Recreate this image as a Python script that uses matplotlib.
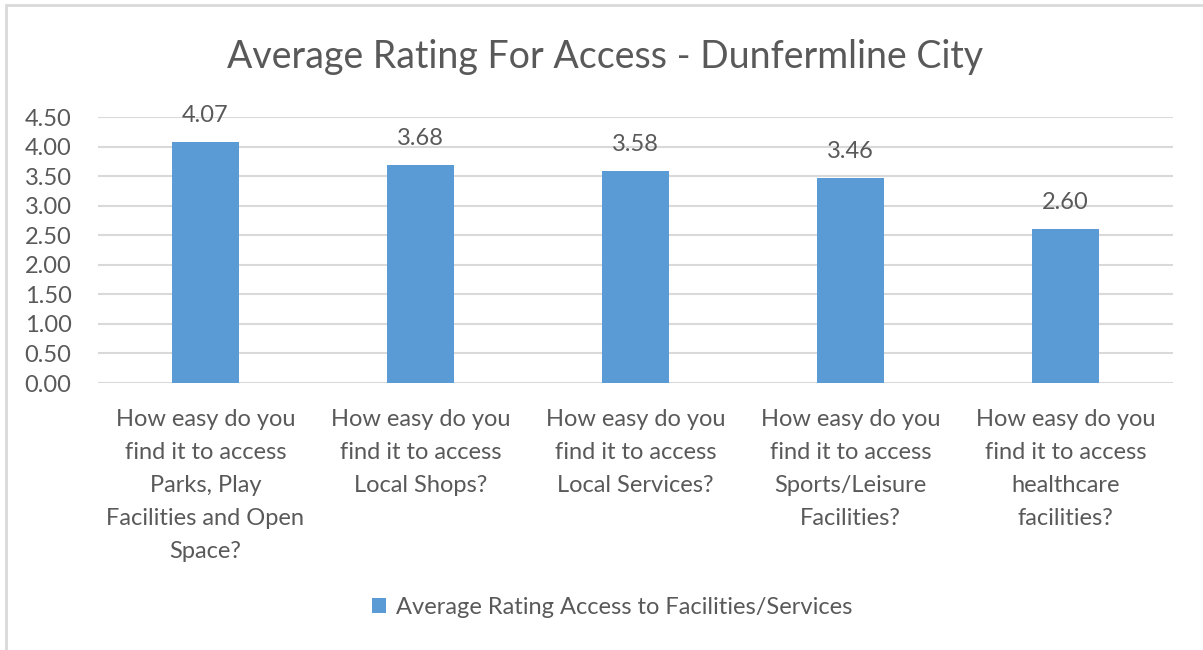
import numpy as np
import matplotlib.pyplot as plt
from matplotlib.patches import Rectangle

# data
categories = [
    "How easy do you\nfind it to access\nParks, Play\nFacilities and Open\nSpace?",
    "How easy do you\nfind it to access\nLocal Shops?",
    "How easy do you\nfind it to access\nLocal Services?",
    "How easy do you\nfind it to access\nSports/Leisure\nFacilities?",
    "How easy do you\nfind it to access\nhealthcare\nfacilities?",
]
ratings = [4.07, 3.68, 3.58, 3.46, 2.60]
y_ticks = [0.0, 0.5, 1.0, 1.5, 2.0, 2.5, 3.0, 3.5, 4.0, 4.5]
series_name = "Average Rating Access to Facilities/Services"
title = "Average Rating For Access - Dunfermline City"

bar_color = "#5B9BD5"
text_color = "#595959"
grid_color = "#D9D9D9"

plt.rcParams["font.family"] = ["Lato", "DejaVu Sans"]

fig = plt.figure(figsize=(12.03, 6.5), dpi=100)
# chart area border (light grey, Excel-like)
fig.patches.append(Rectangle((6 / 1203, -0.01), 1.01, 1 - 5 / 650 + 0.01,
                             transform=fig.transFigure, fill=False,
                             edgecolor="#D9D9D9", linewidth=2))

ax = fig.add_axes([98 / 1203, 267 / 650, 1075 / 1203, 266 / 650])
x = np.arange(len(categories))
bars = ax.bar(x, ratings, width=0.31, color=bar_color, label=series_name, zorder=3)

for xi, v in zip(x, ratings):
    ax.text(xi, v + 0.45, f"{v:.2f}", ha="center", va="center",
            fontsize=17, color=text_color, zorder=4)

ax.set_xlim(-0.5, len(categories) - 0.5)
ax.set_ylim(0, 4.5)
ax.set_yticks(y_ticks)
ax.set_yticklabels([f"{t:.2f}" for t in y_ticks])
ax.set_xticks(x)
ax.set_xticklabels(categories, linespacing=1.7)
ax.tick_params(axis="both", length=0, labelsize=17, colors=text_color)
ax.tick_params(axis="y", pad=19)
ax.tick_params(axis="x", pad=19)
for lbl in ax.get_xticklabels():
    lbl.set_verticalalignment("top")

ax.grid(axis="y", color=grid_color, linewidth=1.5, zorder=0)
for s in ax.spines.values():
    s.set_visible(False)

fig.text(605 / 1203, 1 - 57 / 650, title, ha="center", va="center",
         fontsize=27, color=text_color)

fig.legend(handles=[bars], labels=[series_name], loc="center",
           bbox_to_anchor=(612 / 1203, 1 - 607 / 650), frameon=False,
           fontsize=17, labelcolor=text_color, handlelength=0.6,
           handleheight=0.6, handletextpad=0.4)

fig.savefig("out.png", dpi=100)
